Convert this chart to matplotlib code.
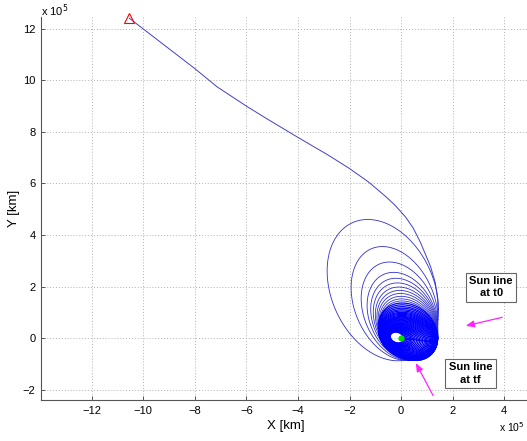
import numpy as np
import matplotlib
matplotlib.use("Agg")
import matplotlib.pyplot as plt

plt.rcParams['font.family'] = ['Liberation Sans', 'DejaVu Sans']

# approach leg, units of 1e5 km
approach_x = [-10.54, -10.02, -7.99, -7.15, -5.98, -5.20, -4.00, -2.87, -2.01,
              -1.26, -0.61, -0.25, 0.17, 0.47, 0.75, 1.14, 1.33, 1.42, 1.42, 1.27,
              0.94, 0.49, -0.03]
approach_y = [12.40, 12.00, 10.44, 9.75, 8.98, 8.50, 7.78, 7.12, 6.58,
              6.05, 5.50, 5.165, 4.70, 4.265, 3.71, 2.78, 2.13, 1.48, 0.84, 0.19,
              -0.33, -0.69, -0.84]

# distinct outer loops: bounding box + tilt
loop_left = [-2.87, -1.94, -1.55, -1.32, -1.18, -1.08, -1.00, -0.94, -0.89,
             -0.85, -0.82, -0.80]
loop_right = [1.45, 1.43, 1.42, 1.42, 1.42, 1.42, 1.42, 1.42, 1.42, 1.42, 1.42, 1.42]
loop_bottom = [-0.88, -0.87, -0.87, -0.87, -0.87, -0.87, -0.87, -0.87, -0.87,
               -0.87, -0.87, -0.87]
loop_top = [4.60, 3.55, 2.95, 2.55, 2.32, 2.14, 1.98, 1.85, 1.73, 1.62, 1.52, 1.44]
loop_skew = [-0.27, -0.28, -0.26, -0.25, -0.25, -0.25, -0.25, -0.25, -0.25,
             -0.25, -0.25, -0.25]

# dense inner loops
dense_top = [1.36, 1.29, 1.22, 1.16, 1.10, 1.05, 1.00, 0.96, 0.92, 0.88, 0.84, 0.81,
             0.78, 0.75, 0.72, 0.69, 0.66, 0.63, 0.60, 0.57, 0.54, 0.52, 0.49, 0.47,
             0.45, 0.43, 0.41, 0.39, 0.37, 0.35, 0.33, 0.31, 0.29, 0.27, 0.25, 0.23]
dense_right = [1.42, 1.42, 1.41, 1.41, 1.40, 1.39, 1.38, 1.37, 1.35, 1.33, 1.31, 1.28,
               1.25, 1.22, 1.18, 1.14, 1.10, 1.05, 1.00, 0.95, 0.90, 0.84, 0.78, 0.72,
               0.66, 0.60, 0.54, 0.48, 0.43, 0.38, 0.33, 0.28, 0.23, 0.18, 0.14, 0.10]
dense_bottom = [-0.86, -0.86, -0.86, -0.85, -0.85, -0.84, -0.83, -0.82, -0.81, -0.80,
                -0.78, -0.76, -0.74, -0.72, -0.70, -0.68, -0.66, -0.63, -0.60, -0.57,
                -0.54, -0.51, -0.48, -0.45, -0.42, -0.39, -0.36, -0.34, -0.32, -0.30,
                -0.28, -0.26, -0.24, -0.22, -0.20, -0.19]
dense_left = [-0.88, -0.88, -0.88, -0.87, -0.87, -0.87, -0.86, -0.86, -0.85, -0.84,
              -0.83, -0.82, -0.81, -0.80, -0.78, -0.77, -0.75, -0.74, -0.72, -0.70,
              -0.68, -0.66, -0.64, -0.62, -0.60, -0.58, -0.56, -0.54, -0.52, -0.50,
              -0.48, -0.47, -0.45, -0.44, -0.43, -0.42]
dense_skew = -0.2

start_pt = (-10.54, 12.40)
end_pt = (0.0, 0.02)


def loop_xy(left, right, bottom, top, skew, n=240):
    t = np.linspace(0, 2 * np.pi, n)
    cx, cy = (left + right) / 2, (bottom + top) / 2
    w, h = (right - left) / 2, (top - bottom) / 2
    d = np.arcsin(skew)
    return cx + w * np.cos(t), cy + h * np.sin(t + d)


fig = plt.figure(figsize=(5.27, 4.41), dpi=100)
ax = fig.add_axes([41 / 527, 41 / 441, 489 / 527, 383 / 441])

ax.plot(approach_x, approach_y, color='#4040cc', lw=0.7)
for i in range(len(loop_left)):
    lx, ly = loop_xy(loop_left[i], loop_right[i], loop_bottom[i], loop_top[i], loop_skew[i])
    ax.plot(lx, ly, color='#3030d0', lw=0.6)
for i in range(len(dense_left)):
    lx, ly = loop_xy(dense_left[i], dense_right[i], dense_bottom[i], dense_top[i], dense_skew)
    ax.plot(lx, ly, color='#0000ff', lw=0.9)

ax.plot(*start_pt, marker='^', ms=6.5, mfc='none', mec='red', mew=0.8, clip_on=False)
ax.plot(*end_pt, marker='o', ms=3.5, mfc='#00dd00', mec='#00dd00')

ax.set_xlim(-13.97, 5.0)
ax.set_ylim(-2.4, 12.45)
ax.set_xticks(np.arange(-12, 5, 2))
ax.set_yticks(np.arange(-2, 13, 2))
ax.grid(True, color='#b0b0b0', linestyle=(0, (1, 2)), lw=0.7)
for s in ['top', 'right']:
    ax.spines[s].set_visible(False)
for s in ['left', 'bottom']:
    ax.spines[s].set_color('#555555')
ax.tick_params(direction='in', length=3, width=0.7, color='#555555', labelsize=8, pad=4)
ax.set_xlabel('X [km]', fontsize=9.5, labelpad=3)
ax.set_ylabel('Y [km]', fontsize=9.5, labelpad=2)

fig.text(41 / 527, 1 - 16 / 441, r'x 10$^5$', fontsize=8, ha='left', va='baseline')
fig.text(525 / 527, 1 - 432 / 441, r'x 10$^5$', fontsize=7.5, ha='right', va='baseline')

box = dict(boxstyle='square,pad=0.3', fc='white', ec='#666666', lw=0.8)
ax.text(3.49, 1.97, 'Sun line\nat t0', fontsize=8, fontweight='bold', ha='center',
        va='center', bbox=box, linespacing=1.3)
ax.text(2.69, -1.37, 'Sun line\nat tf', fontsize=8, fontweight='bold', ha='center',
        va='center', bbox=box, linespacing=1.3)
arrow = dict(arrowstyle='-|>,head_length=0.5,head_width=0.2', color='#ff22ff', lw=0.9)
ax.annotate('', xy=(2.4, 0.45), xytext=(4.03, 0.83), arrowprops=arrow)
ax.annotate('', xy=(0.52, -0.87), xytext=(1.29, -2.32), arrowprops=arrow)

fig.savefig('out.png', dpi=100)
